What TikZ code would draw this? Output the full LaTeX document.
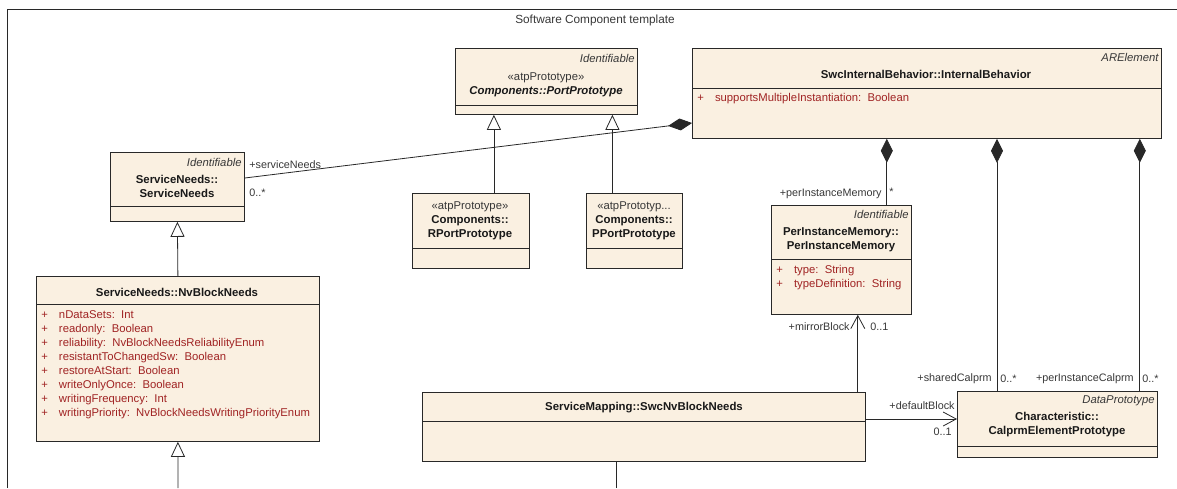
\documentclass[tikz,border=0pt]{standalone}
\usepackage{fontspec}
\setmainfont{Liberation Sans}
\usetikzlibrary{arrows.meta,calc,shadows}
\definecolor{boxfill}{RGB}{250,240,225}
\definecolor{attrred}{RGB}{160,35,35}
\definecolor{linegray}{RGB}{40,40,40}
\definecolor{textgray}{RGB}{55,55,55}
\definecolor{textdark}{RGB}{25,25,25}

\begin{document}
\begin{tikzpicture}[x=1pt, y=-1pt, line width=0.8pt, color=linegray,
    cls/.style={draw=linegray, fill=boxfill, anchor=north west, inner sep=0pt,
        drop shadow={shadow xshift=0.9pt, shadow yshift=-0.9pt, fill=black!60, opacity=0.8}},
    stereo/.style={font=\fontsize{11.3}{14}\selectfont\itshape, text=textgray, inner sep=0pt},
    kw/.style={font=\fontsize{11.3}{14}\selectfont, text=textgray, inner sep=0pt},
    nm/.style={font=\fontsize{11.4}{14}\selectfont\bfseries, text=textdark, align=center, inner sep=0pt},
    attr/.style={font=\fontsize{11.3}{14}\selectfont, text=attrred, anchor=north west, inner sep=0pt},
    lbl/.style={font=\fontsize{10.8}{12}\selectfont, text=textgray, inner sep=0pt},
    comp/.style={-{Diamond[length=24pt,width=12pt]}},
    gen/.style={-{Triangle[open,length=15pt,width=14pt,fill=white]}},
    nav/.style={-{Straight Barb[length=13pt,width=14pt]}}]
    \useasboundingbox (0,0) rectangle (1177,488);

    % 外框与标题
    \draw (7,488) -- (7,9) -- (1177,9);
    \node[kw, font=\fontsize{11.8}{14}\selectfont] (title) at (595,20) {Software Component template};

    % ServiceNeeds
    \node[cls, minimum width=134pt, minimum height=69pt] (sn) at (110,152) {};
    \draw (110,206) -- (244,206);
    \node[stereo, anchor=east] (snst) at (242,162) {Identifiable};
    \node[nm] (snnm) at (177,186) {ServiceNeeds::\\ServiceNeeds};

    % NvBlockNeeds
    \node[cls, minimum width=283pt, minimum height=165pt] (nv) at (36,276) {};
    \draw (36,304) -- (319,304);
    \node[nm] (nvnm) at (177,292) {ServiceNeeds::NvBlockNeeds};
    \node[attr] (nvattr) at (41,308) {\begin{tabular}{@{}l@{\hspace{11pt}}l@{}}
        + & nDataSets:\ \ Int\\
        + & readonly:\ \ Boolean\\
        + & reliability:\ \ NvBlockNeedsReliabilityEnum\\
        + & resistantToChangedSw:\ \ Boolean\\
        + & restoreAtStart:\ \ Boolean\\
        + & writeOnlyOnce:\ \ Boolean\\
        + & writingFrequency:\ \ Int\\
        + & writingPriority:\ \ NvBlockNeedsWritingPriorityEnum
    \end{tabular}};

    % PortPrototype
    \node[cls, minimum width=182pt, minimum height=66pt] (pp) at (455,48) {};
    \draw (455,105) -- (637,105);
    \node[stereo, anchor=east] (ppst) at (635,58) {Identifiable};
    \node[kw] (ppkw) at (546,78) {«atpPrototype»};
    \node[nm, font=\fontsize{11.4}{14}\selectfont\bfseries\itshape] (ppnm) at (546,92) {Components::PortPrototype};

    % RPortPrototype / PPortPrototype
    \node[cls, minimum width=117pt, minimum height=75pt] (rp) at (412,193) {};
    \draw (412,248) -- (529,248);
    \node[kw] (rpkw) at (470,207) {«atpPrototype»};
    \node[nm] (rpnm) at (470,228) {Components::\\RPortPrototype};
    \node[cls, minimum width=96pt, minimum height=75pt] (ppp) at (586,193) {};
    \draw (586,248) -- (682,248);
    \node[kw] (pppkw) at (634,207) {«atpPrototyp...};
    \node[nm] (pppnm) at (634,228) {Components::\\PPortPrototype};

    % InternalBehavior
    \node[cls, minimum width=469pt, minimum height=90pt] (ib) at (692,48) {};
    \draw (692,88) -- (1161,88);
    \node[stereo, anchor=east] (ibst) at (1159,57) {ARElement};
    \node[nm] (ibnm) at (926,74) {SwcInternalBehavior::InternalBehavior};
    \node[attr] (ibattr) at (697,91) {\begin{tabular}{@{}l@{\hspace{11pt}}l@{}}
        + & supportsMultipleInstantiation:\ \ Boolean
    \end{tabular}};

    % PerInstanceMemory
    \node[cls, minimum width=140pt, minimum height=109pt] (pim) at (771,205) {};
    \draw (771,259) -- (911,259);
    \node[stereo, anchor=east] (pimst) at (909,214) {Identifiable};
    \node[nm] (pimnm) at (841,240) {PerInstanceMemory::\\PerInstanceMemory};
    \node[attr] (pimattr) at (776,263) {\begin{tabular}{@{}l@{\hspace{11pt}}l@{}}
        + & type:\ \ String\\
        + & typeDefinition:\ \ String
    \end{tabular}};

    % SwcNvBlockNeeds
    \node[cls, minimum width=443pt, minimum height=69pt] (snb) at (422,392) {};
    \draw (422,421) -- (865,421);
    \node[nm] (snbnm) at (644,408) {ServiceMapping::SwcNvBlockNeeds};

    % CalprmElementPrototype
    \node[cls, minimum width=200pt, minimum height=66pt] (cal) at (957,391) {};
    \draw (957,446) -- (1157,446);
    \node[stereo, anchor=east] (calst) at (1155,401) {DataPrototype};
    \node[nm] (calnm) at (1057,425) {Characteristic::\\CalprmElementPrototype};

    % 泛化
    \draw[gen] (nv.north) -- (sn.south);
    \coordinate (nvsub) at (178,488);
    \draw[gen] (nvsub) -- (nv.south);
    \coordinate (rptop) at ([xshift=23pt]rp.north);
    \draw[gen] (rptop) -- (rptop |- pp.south);
    \coordinate (ppptop) at ([xshift=-22pt]ppp.north);
    \draw[gen] (ppptop) -- (ppptop |- pp.south);

    % 组合
    \draw[comp] ([yshift=-26pt]sn.north east) -- ([yshift=-75pt]ib.north west);
    \node[lbl, anchor=west] (snrole) at (249,165) {+serviceNeeds};
    \node[lbl, anchor=west] (snmul) at (249,193) {0..*};
    \coordinate (pimtop) at ([xshift=-25pt]pim.north east);
    \draw[comp] (pimtop) -- (pimtop |- ib.south);
    \node[lbl, anchor=east] (pimrole) at (882,194) {+perInstanceMemory};
    \node[lbl, anchor=west] (pimmul) at (889,192) {*};
    \coordinate (shtop) at ([xshift=40pt]cal.north west);
    \draw[comp] (shtop) -- (shtop |- ib.south);
    \node[lbl, anchor=east] (shrole) at (992,379) {+sharedCalprm};
    \node[lbl, anchor=west] (shmul) at (1000,379) {0..*};
    \coordinate (pctop) at ([xshift=-18pt]cal.north east);
    \draw[comp] (pctop) -- (pctop |- ib.south);
    \node[lbl, anchor=east] (pcrole) at (1134,379) {+perInstanceCalprm};
    \node[lbl, anchor=west] (pcmul) at (1142,379) {0..*};

    % 关联
    \coordinate (mbend) at ([xshift=-8pt]snb.north east);
    \draw[nav] (mbend) -- (mbend |- pim.south);
    \node[lbl, anchor=east] (mbrole) at (850,327) {+mirrorBlock};
    \node[lbl, anchor=west] (mbmul) at (870,327) {0..1};
    \coordinate (dbend) at ([yshift=-27pt]snb.north east);
    \draw[nav] (dbend) -- (dbend -| cal.west);
    \node[lbl, anchor=east] (dbrole) at (955,406) {+defaultBlock};
    \node[lbl, anchor=east] (dbmul) at (952,432) {0..1};
    \coordinate (snbsub) at (616,488);
    \draw (snbsub) -- (snbsub |- snb.south);
\end{tikzpicture}
\end{document}
